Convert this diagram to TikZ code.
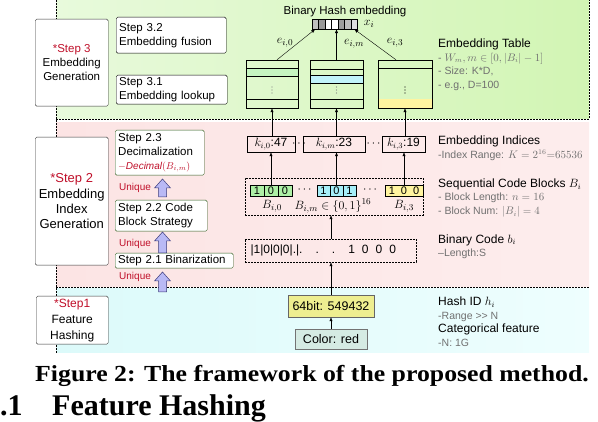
\documentclass[tikz,border=0pt]{standalone}
\usepackage{fontspec}
\usepackage{graphicx}
\setmainfont{Liberation Sans}
\newfontfamily\capfont{Liberation Serif}
\usetikzlibrary{arrows.meta}
\definecolor{stepred}{HTML}{C0102A}
\definecolor{boxgreen}{HTML}{2E5E1E}
\definecolor{notegray}{HTML}{707070}
\definecolor{lav}{HTML}{B9B9F5}
\definecolor{lavline}{HTML}{3A3A7A}
\definecolor{grnL}{HTML}{E8FADC}
\definecolor{grnR}{HTML}{D2F5B4}
\definecolor{pnkL}{HTML}{FCE4E4}
\definecolor{pnkR}{HTML}{FDEDED}
\definecolor{cyL}{HTML}{DCFAFA}
\definecolor{cyR}{HTML}{EEFEFE}
\definecolor{cbgreen}{HTML}{AEF0A6}
\definecolor{cbcyan}{HTML}{A6EEF8}
\definecolor{cbyellow}{HTML}{FFF4A0}
\definecolor{khaki}{HTML}{EEEE90}
\definecolor{colbox}{HTML}{D5EBE3}
\newcommand{\fsz}[2]{\fontsize{#1}{#2}\selectfont}
\newcommand{\gr}[1]{{\color{notegray}\fsz{10.5}{13.5}#1}}

\begin{document}
\begin{tikzpicture}
  [x=1pt,y=-1pt,
   every node/.style={inner sep=0pt,font=\fsz{11.5}{14}},
   stepbox/.style={draw=black!80,fill=white,rounded corners=1.5pt,align=center,anchor=north west},
   subbox/.style={draw,fill=white,rounded corners=1.5pt,align=left,anchor=north west},
   subgreen/.style={subbox,draw=boxgreen},
   tbl/.style={draw,thin,minimum height=48},
   kbox/.style={draw,thin,minimum height=16,font=\fsz{12}{14}},
   cell/.style={draw,thin,minimum width=14,minimum height=11,font=\fsz{11}{12}},
   hcell/.style={draw,line width=0.3pt,minimum width=6.5,minimum height=10},
   dbox/.style={draw,dash pattern=on 2pt off 1pt,thin},
   note/.style={anchor=west,align=left,font=\fsz{12}{13.5}},
   lbl/.style={font=\fsz{13}{14}},
   uniq/.style={anchor=west,text=stepred,font=\fsz{10}{12}},
   fatarr/.style={fill=lav,draw=lavline,line width=0.5pt},
   arr/.style={-{Latex[length=4pt,width=3.2pt]},thin}]
\useasboundingbox (0,0) rectangle (598,422);

% bands
\shade[left color=grnL,right color=grnR] (56,0) rectangle (589,119);
\shade[left color=pnkL,right color=pnkR] (56,123) rectangle (589,287);
\shade[left color=cyL,right color=cyR] (56,289) rectangle (589,353);
\draw[dbox] (56,0) -- (56,353);
\draw[dbox] (56,119) -- (589,119) -- (589,0);
\draw[dbox] (56,287) -- (589,287);

% steps
\node[stepbox,minimum width=73,minimum height=87] (s3) at (35,19)
  {\textcolor{stepred}{*Step 3}\\Embedding\\Generation};
\node[stepbox,minimum width=73,minimum height=128,font=\fsz{13}{15.3}] (s2) at (35,137)
  {\textcolor{stepred}{*Step 2}\\Embedding\\Index\\Generation};
\node[stepbox,minimum width=72,minimum height=48,font=\fsz{12}{16}] (s1) at (36,296)
  {\textcolor{stepred}{*Step1}\\Feature\\Hashing};

\node[subbox,minimum width=110,minimum height=36,text width=104,inner xsep=3] (s32) at (116,17)
  {Step 3.2\\Embedding fusion};
\node[subbox,minimum width=111,minimum height=29,text width=105,inner xsep=3] (s31) at (116,75)
  {Step 3.1\\Embedding lookup};
\node[subgreen,minimum width=89,minimum height=45,text width=83,inner xsep=3] (s23) at (115,130)
  {Step 2.3\\Decimalization\\{\color{stepred}\fsz{10}{14}$-\mathit{Decimal}(B_{i,m})$}};
\node[subgreen,minimum width=92,minimum height=31,text width=86,inner xsep=3] (s22) at (115,200)
  {Step 2.2 Code\\Block Strategy};
\node[subgreen,minimum width=118,minimum height=15,text width=112,inner xsep=3] (s21) at (115,253)
  {Step 2.1 Binarization};

\node[uniq] (u3) at (119,188) {Unique};
\node[uniq] (u2) at (119,244) {Unique};
\node[uniq] (u1) at (119,277) {Unique};
\foreach \yb/\yt in {197/179,253/232,292/272}
  \draw[fatarr] (158.5,\yb) -- (158.5,\yt+9) -- (154.5,\yt+9) -- (162.5,\yt)
    -- (170.5,\yt+9) -- (166.5,\yt+9) -- (166.5,\yb) -- cycle;

% embedding tables
\fill[cbgreen!70] (246,68) rectangle (298,76);
\fill[cbcyan!70] (310,75) rectangle (363,83);
\fill[cbyellow] (378,99) rectangle (432,108);
\node[tbl,minimum width=52] (t0) at (272,84) {};
\node[tbl,minimum width=53] (t1) at (336.5,84) {};
\node[tbl,minimum width=54] (t2) at (405,84) {};
\foreach \xa/\xb/\yy in {246/298/68,246/298/76,246/298/99,310/363/69,310/363/75,310/363/83,310/363/99,378/432/68}
  \draw[thin] (\xa,\yy) -- (\xb,\yy);
\foreach \xx/\cc in {272/black!50,336.5/black!50,405/black}
  \foreach \dy in {-3,0,3}
    \fill[\cc] (\xx,90+\dy) circle (0.65);

% binary hash embedding
\node (ttl) at (345,12) {Binary Hash embedding};
\foreach \c [count=\i] in {gray!50,gray!80,white,white,gray!75,gray!50,gray!25}
  \node[hcell,fill=\c] (v\i) at (308.75+6.5*\i,24) {};
\node[lbl] (xi) at (369,24) {$x_i$};
\draw[arr] ([xshift=5pt]t0.north) -- (v1.south);
\draw[arr] (t1.north) -- (t1.north |- v4.south);
\draw[arr] ([xshift=-9pt]t2.north) -- (v7.south);
\node[lbl] (e0) at (285,43) {$e_{i,0}$};
\node[lbl] (e1) at (354,44) {$e_{i,m}$};
\node[lbl] (e2) at (395,43) {$e_{i,3}$};

% embedding indices
\node[kbox,minimum width=48] (k0) at (271,144) {$k_{i,0}$:47};
\node[kbox,minimum width=62] (k1) at (334,144) {$k_{i,m}$:23};
\node[kbox,minimum width=43] (k2) at (403.5,144) {$k_{i,3}$:19};
\node (kd0) at (299,144) {$\cdots$};
\node (kd1) at (373.5,144) {$\cdots$};
\foreach \from/\to in {k0/t0,k1/t1,k2/t2}
  \draw[arr] (\from.north -| \to.south) -- (\to.south);

% code blocks
\node[dbox,minimum width=178,minimum height=37] (cbox) at (334,196.5) {};
\foreach \b [count=\i] in {1,0,0}
  \node[cell,fill=cbgreen] (a\i) at (243+14*\i,191) {\b};
\foreach \b [count=\i] in {1,0,1}
  \node[cell,fill=cbcyan,minimum width=13] (b\i) at (310.5+13*\i,191) {\b};
\node[cell,fill=cbyellow,minimum width=38] (c2) at (404,191) {1\hspace{6pt}0\hspace{6pt}0};
\node[font=\fsz{12}{12}] (cd0) at (304.5,190) {$\cdots$};
\node[font=\fsz{12}{12}] (cd1) at (370,190) {$\cdots$};
\node[lbl] (bl0) at (272,206) {$B_{i,0}$};
\node[lbl] (bl1) at (333,206) {$B_{i,m}\in\{0,1\}^{16}$};
\node[lbl] (bl2) at (404,206) {$B_{i,3}$};
\foreach \from/\to in {a2/k0,b2/k1,c2/k2}
  \draw[arr] (\from.north) -- (\from.north |- \to.south);

% binary code
\node[dbox,minimum width=171,minimum height=23,text width=160,align=left,font=\fsz{12}{14}] (bcode) at (330.5,250.5)
  {|1|0|0|0|.|.\hspace{13pt}.\hspace{13pt}.\hspace{13pt}1\hspace{7pt}0\hspace{7pt}0\hspace{7pt}0};

% feature hashing
\node[fill=khaki,draw=black!60,minimum width=86,minimum height=22,font=\fsz{12.5}{14}] (h) at (331,306) {64bit: 549432};
\node[fill=colbox,draw=black!55,minimum width=72,minimum height=20,font=\fsz{12.5}{14}] (col) at (331,339) {Color: red};
\draw[arr] (col.north) -- (h.south);
\draw[arr] (h.north) -- (h.north |- bcode.south);
\draw[arr] (h.north |- bcode.north) -- (h.north |- cbox.south);

% notes
\node[note] (n1) at (438,64.5)
  {Embedding Table\\\gr{- $W_m, m\in[0,|B_i|-1]$}\\\gr{- Size: K*D,}\\\gr{- e.g., D=100}};
\node[note] (n2) at (438,148)
  {Embedding Indices\\\gr{-Index Range: $K=2^{16}{=}65536$}};
\node[note] (n3) at (438,198)
  {Sequential Code Blocks $B_i$\\\gr{- Block Length: $n=16$}\\\gr{- Block Num: $|B_i|=4$}};
\node[note] (n4) at (438,246.5)
  {Binary Code $b_i$\\\gr{–Length:S}};
\node[note] (n5) at (438,321.5)
  {Hash ID $h_i$\\\gr{-Range >\kern0pt> N}\\Categorical feature\\\gr{-N: 1G}};

% caption
\node[font=\capfont\bfseries\fsz{23}{26},anchor=base] (cap) at (312,382)
  {\scalebox{1.12}[1]{Figure 2: The framework of the proposed method.}};
\node[font=\capfont\bfseries\fsz{30}{32},anchor=base west] (secn) at (0,416) {.1};
\node[font=\capfont\bfseries\fsz{30}{32},anchor=base west] (sect) at (52,416) {Feature Hashing};
\end{tikzpicture}
\end{document}
